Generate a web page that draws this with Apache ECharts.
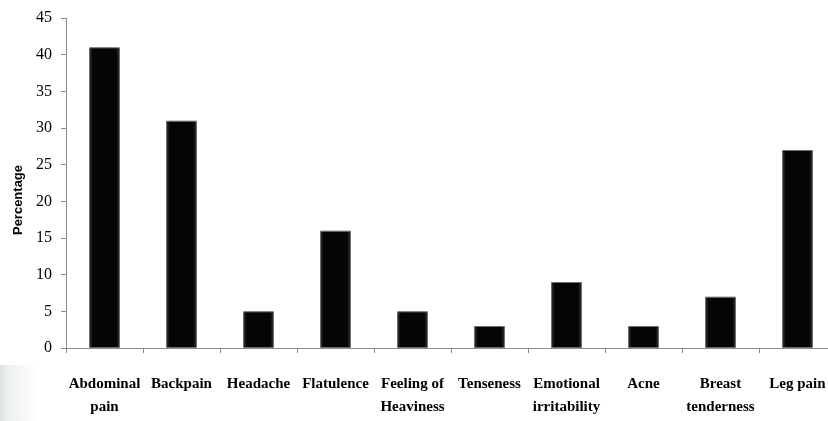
<!DOCTYPE html>
<html>
<head>
<meta charset="utf-8">
<script src="https://cdn.jsdelivr.net/npm/echarts@6/dist/echarts.min.js"></script>
<style>
html,body{margin:0;padding:0;background:#fff;overflow:hidden;}
/* the plot runs a little past the right edge of the window, like the original */
#symptoms_chart{width:836px;height:421px;}
</style>
</head>
<body>
<div id="symptoms_chart"></div>
<script>
var symptoms = ['Abdominal\npain', 'Backpain', 'Headache', 'Flatulence', 'Feeling of\nHeaviness',
    'Tenseness', 'Emotional\nirritability', 'Acne', 'Breast\ntenderness', 'Leg pain'];
var percentages = [41, 31, 5, 16, 5, 3, 9, 3, 7, 27];
var yTicks = [0, 5, 10, 15, 20, 25, 30, 35, 40, 45];

var myChart = echarts.init(document.getElementById("symptoms_chart"));

// black bars with a little bevel on the edges
var barColor = new echarts.graphic.LinearGradient(0, 0, 1, 0, [
    {offset: 0, color: '#3a3a3a'},
    {offset: 0.12, color: '#050505'},
    {offset: 0.88, color: '#050505'},
    {offset: 1, color: '#3a3a3a'}
]);

var option = {
    animation: false,
    grid: {left: 66, top: 18, height: 330, right: 0},
    graphic: [{
        type: 'rect',
        left: 0,
        top: 365,
        shape: {width: 40, height: 56},
        style: {
            fill: new echarts.graphic.LinearGradient(0, 0, 1, 0, [
                {offset: 0, color: '#dde1e1'},
                {offset: 0.2, color: '#eef0f0'},
                {offset: 1, color: '#ffffff'}
            ])
        },
        silent: true
    }],
    xAxis: {
        type: 'category',
        data: symptoms,
        axisLine: {lineStyle: {color: '#8c8c8c'}},
        axisTick: {show: true, length: 5, lineStyle: {color: '#8c8c8c'}},
        axisLabel: {
            interval: 0,
            margin: 25,
            fontFamily: 'Liberation Serif',
            fontWeight: 'bold',
            fontSize: 15,
            lineHeight: 23,
            color: '#000'
        }
    },
    yAxis: {
        type: 'value',
        min: yTicks[0],
        max: yTicks[yTicks.length - 1],
        interval: 5,
        name: 'Percentage',
        nameLocation: 'middle',
        nameGap: 39,
        nameTextStyle: {
            fontFamily: 'Liberation Sans',
            fontWeight: 'bold',
            fontSize: 13,
            color: '#000',
            padding: [0, 34, 0, 0]
        },
        axisLine: {show: true, lineStyle: {color: '#8c8c8c'}},
        axisTick: {show: true, length: 5, lineStyle: {color: '#8c8c8c'}},
        splitLine: {show: false},
        axisLabel: {
            margin: 14,
            fontFamily: 'Liberation Serif',
            fontSize: 16,
            color: '#000'
        }
    },
    series: [{
        name: 'Percentage',
        type: 'bar',
        barWidth: 31,
        data: percentages,
        itemStyle: {
            color: barColor,
            borderColor: '#6e6e6e',
            borderWidth: 1
        }
    }]
};

myChart.setOption(option);
</script>
</body>
</html>
